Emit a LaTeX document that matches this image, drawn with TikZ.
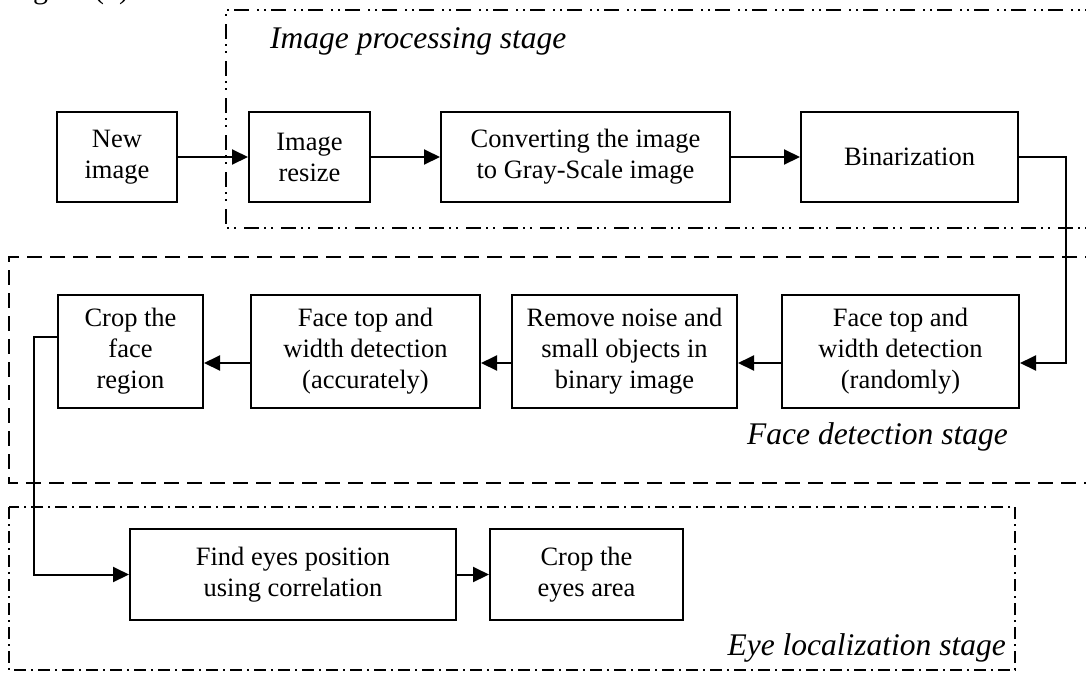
\documentclass[tikz,border=0pt]{standalone}
\usepackage{fontspec}
\setmainfont{Liberation Serif}
\usetikzlibrary{arrows.meta}
\begin{document}
\begin{tikzpicture}[x=1pt,y=-1pt,
  proc/.style={draw,line width=2pt,align=center,inner sep=0pt,
    font=\fontsize{26.5}{31}\selectfont},
  conn/.style={line width=2pt},
  arr/.style={conn,-{Triangle[length=16pt,width=15pt]}},
  stagelabel/.style={font=\fontsize{31.5}{36}\selectfont\itshape,inner sep=0pt},
  frameddot/.style={line width=1.9pt,
    dash pattern=on 15pt off 5pt on 2pt off 5pt on 2pt off 8pt},
  framedash/.style={line width=1.9pt,dash pattern=on 15pt off 8pt},
  framedot/.style={line width=1.9pt,dash pattern=on 12pt off 5pt on 2pt off 5pt}]
\useasboundingbox (0,0) rectangle (1086,673);

% caption line above the diagram, mostly outside the page
\node[font=\fontsize{30}{34}\selectfont,inner sep=0pt,anchor=base west]
  (caption) at (8,-1.5) {Figure (5)};

% stage frames
\draw[frameddot] (1100,10) -- (226,10) -- (226,228) -- (1100,228);
\draw[framedash] (1100,257) -- (9,257) -- (9,483) -- (1100,483);
\draw[framedot] (9,507) rectangle (1015,670);

% stage labels
\node[stagelabel,anchor=base west] (lblimg) at (270,48) {Image processing stage};
\node[stagelabel,anchor=base east] (lblface) at (1008,444) {Face detection stage};
\node[stagelabel,anchor=base east] (lbleye) at (1006,655) {Eye localization stage};

% first row
\node[proc,minimum width=120pt,minimum height=90pt] (new) at (117,157) {New\\image};
\node[proc,minimum width=121pt,minimum height=90pt] (resize) at (309.5,157) {Image\\resize};
\node[proc,minimum width=289pt,minimum height=90pt] (conv) at (585.5,157)
  {Converting the image\\to Gray-Scale image};
\node[proc,minimum width=217pt,minimum height=90pt] (bin) at (909.5,157) {Binarization};

% second row
\node[proc,minimum width=145pt,minimum height=113pt] (crop) at (130.5,351.5)
  {Crop the\\face\\region};
\node[proc,minimum width=229pt,minimum height=113pt] (acc) at (365.5,351.5)
  {Face top and\\width detection\\(accurately)};
\node[proc,minimum width=225pt,minimum height=113pt] (noise) at (624.5,351.5)
  {Remove noise and\\small objects in\\binary image};
\node[proc,minimum width=237pt,minimum height=113pt] (rand) at (900.5,351.5)
  {Face top and\\width detection\\(randomly)};

% third row
\node[proc,minimum width=326pt,minimum height=91pt] (find) at (293,574.5)
  {Find eyes position\\using correlation};
\node[proc,minimum width=193pt,minimum height=91pt] (eyes) at (586.5,574.5)
  {Crop the\\eyes area};

% routing helpers
\coordinate (turn) at (1066,0);
\coordinate (rowtwo) at (0,363);
\coordinate (exitrow) at (0,337);
\coordinate (down) at (34,0);

% connectors
\draw[arr] (new) -- (resize);
\draw[arr] (resize) -- (conv);
\draw[arr] (conv) -- (bin);
\draw[arr] (bin.east) -- (bin.east -| turn) -- (turn |- rowtwo) -- (rand.east |- rowtwo);
\draw[arr] (rand.west |- rowtwo) -- (noise.east |- rowtwo);
\draw[arr] (noise.west |- rowtwo) -- (acc.east |- rowtwo);
\draw[arr] (acc.west |- rowtwo) -- (crop.east |- rowtwo);
\draw[arr] (crop.west |- exitrow) -- (down |- exitrow) -- (down |- find.west) -- (find.west);
\draw[arr] (find) -- (eyes);
\end{tikzpicture}
\end{document}
